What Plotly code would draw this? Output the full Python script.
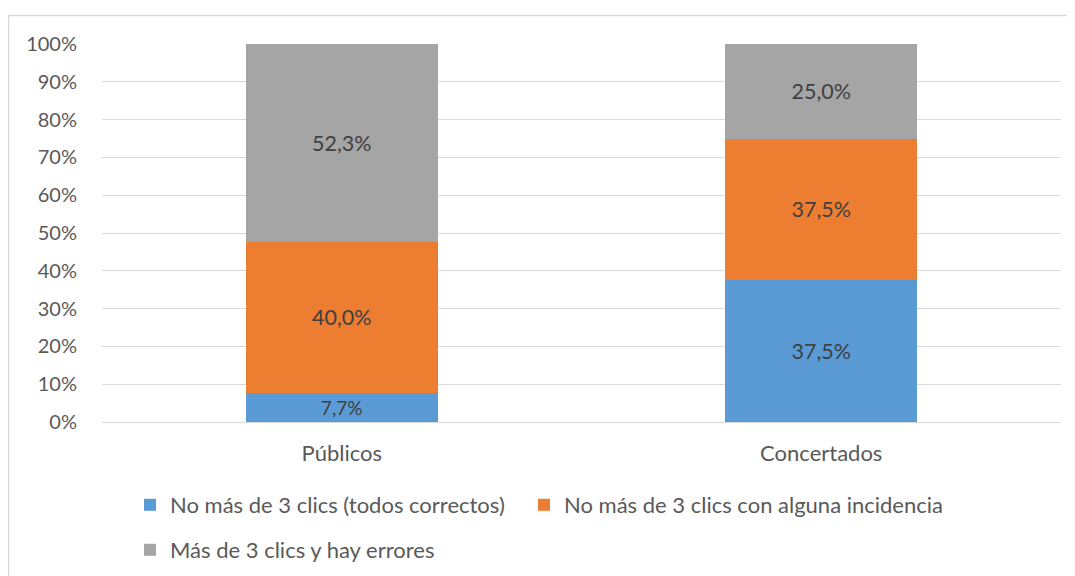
import plotly.graph_objects as go

categories = ["Públicos", "Concertados"]
series_names = [
    "No más de 3 clics (todos correctos)",
    "No más de 3 clics con alguna incidencia",
    "Más de 3 clics y hay errores",
]
correctos = [7.7, 37.5]
incidencia = [40.0, 37.5]
errores = [52.3, 25.0]
y_ticks = [0, 10, 20, 30, 40, 50, 60, 70, 80, 90, 100]
y_tick_labels = [f"{t}%" for t in y_ticks]

colors = ["#5B9BD5", "#ED7D31", "#A5A5A5"]
FONT = "Lato, Calibri, Carlito, sans-serif"

fig = go.Figure()
for name, vals, col, leg in zip(series_names, [correctos, incidencia, errores], colors,
                                ["legend", "legend2", "legend3"]):
    fig.add_trace(go.Bar(
        x=categories, y=vals, name=name,
        marker=dict(color=col, line=dict(width=0)),
        text=[f"{v:.1f}%".replace(".", ",") for v in vals],
        textposition="inside", insidetextanchor="middle",
        textfont=dict(family=FONT, size=21.5, color="#404040"),
        legend=leg,
    ))

OFF = 8  # page body margin offset
W, H = 1075, 576
L, R, T, B = 102 - OFF, W - (1061 - OFF), 44 - OFF, H - (422 - OFF)
pw, ph = W - L - R, H - T - B

def px(x):
    return (x - OFF - L) / pw

def py(y):
    return (H - B - (y - OFF)) / ph

leg_font = dict(family=FONT, size=22, color="#595959")

def leg(xs, ys):
    return dict(orientation="h", x=px(xs), y=py(ys), xanchor="left", yanchor="middle",
                font=leg_font, itemwidth=30, bgcolor="rgba(0,0,0,0)")

border = dict(color="#D9D9D9", width=1.5)
fig.update_layout(
    width=W, height=H,
    barmode="stack", bargap=0.6,
    margin=dict(l=L, r=R, t=T, b=B, autoexpand=False),
    paper_bgcolor="white", plot_bgcolor="white",
    font=dict(family=FONT, size=20, color="#595959"),
    separators=",.",
    showlegend=True,
    legend=leg(130, 505),
    legend2=leg(524, 505),
    legend3=leg(130, 550),
    shapes=[
        dict(type="line", xref="paper", yref="paper",
             x0=px(8.5), x1=px(1100), y0=py(15.5), y1=py(15.5), line=border, layer="below"),
        dict(type="line", xref="paper", yref="paper",
             x0=px(8.5), x1=px(8.5), y0=py(15.5), y1=py(600), line=border, layer="below"),
    ],
)
fig.update_xaxes(
    showgrid=False, showline=False, zeroline=False, automargin=False,
    tickfont=dict(family=FONT, size=22, color="#595959"),
    ticks="", ticklabelstandoff=16,
)
fig.update_yaxes(
    range=[0, 100], tickvals=y_ticks, ticktext=y_tick_labels, automargin=False,
    showgrid=True, gridcolor="#D9D9D9", gridwidth=1,
    zeroline=True, zerolinecolor="#D9D9D9", zerolinewidth=1,
    showline=False, ticks="", ticklabelstandoff=24,
    tickfont=dict(family=FONT, size=20, color="#595959"),
)

fig.write_html("out.html")
